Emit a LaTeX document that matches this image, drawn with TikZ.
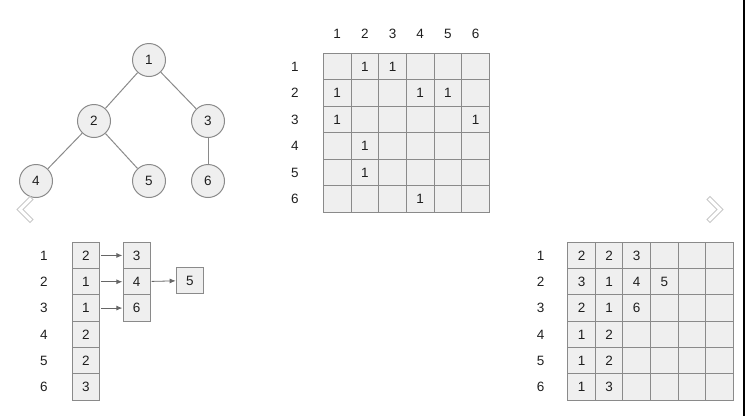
\documentclass[tikz,border=0pt]{standalone}
\usepackage{fontspec}
\setmainfont{Liberation Sans}
\usetikzlibrary{arrows.meta}
\definecolor{cellfill}{HTML}{EFEFEF}
\definecolor{linegray}{HTML}{8A8A8A}
\definecolor{txt}{HTML}{1E1E1E}
\definecolor{chev}{HTML}{C8C8C8}
\begin{document}
\begin{tikzpicture}[x=1pt,y=-1pt,
	every node/.style={font=\fontsize{13.5}{16}\selectfont,text=txt},
	vtx/.style={circle,draw=linegray,fill=cellfill,minimum size=33pt,inner sep=0pt,line width=1pt},
	cell/.style={draw=linegray,fill=cellfill,inner sep=0pt,outer sep=0pt,line width=1pt},
	edge/.style={draw=linegray,line width=1pt},
	link/.style={draw=black!60,line width=0.8pt,-{Latex[length=6pt,width=5pt]}}]
	\useasboundingbox (0,0) rectangle (745,416);
	% tree
	\node[vtx] (v1) at (149,60) {1};
	\node[vtx] (v2) at (94,121) {2};
	\node[vtx] (v3) at (208,121) {3};
	\node[vtx] (v4) at (36,181) {4};
	\node[vtx] (v5) at (149,181) {5};
	\node[vtx] (v6) at (208,181) {6};
	\draw[edge] (v1) -- (v2);
	\draw[edge] (v1) -- (v3);
	\draw[edge] (v2) -- (v4);
	\draw[edge] (v2) -- (v5);
	\draw[edge] (v3) -- (v6);
	% adjacency matrix
	\foreach \r in {1,...,6}{
		\node (ar\r) at (295,{53.3+26.5*(\r-0.5)}) {\r};
		\node (ac\r) at ({323.3+27.7*(\r-0.5)},34) {\r};
		\foreach \c in {1,...,6}
			\node[cell,minimum width=27.7pt,minimum height=26.5pt] (a-\r-\c) at ({323.3+27.7*(\c-0.5)},{53.3+26.5*(\r-0.5)}) {};
	}
	\foreach \r/\c in {1/2,1/3,2/1,2/4,2/5,3/1,3/6,4/2,5/2,6/4}
		\node at (a-\r-\c) {1};
	% adjacency list
	\foreach \r/\v in {1/2,2/1,3/1,4/2,5/2,6/3}{
		\node (lr\r) at (44,{242.3+26.3*(\r-0.5)}) {\r};
		\node[cell,minimum width=27pt,minimum height=26.3pt] (h\r) at (85.8,{242.3+26.3*(\r-0.5)}) {\v};
	}
	\foreach \r/\v in {1/3,2/4,3/6}{
		\node[cell,minimum width=26.7pt,minimum height=26.3pt] (n\r) at (136.7,{242.3+26.3*(\r-0.5)}) {\v};
		\draw[link,shorten <=1.5pt,shorten >=1pt] (h\r) -- (n\r);
	}
	\node[cell,minimum width=26.7pt,minimum height=25.6pt] (n2b) at (190,280.5) {5};
	\draw[link,shorten <=1.5pt,shorten >=1pt] (n2) -- (n2b);
	% right table
	\foreach \r in {1,...,6}{
		\node (tr\r) at (540.7,{242.3+26.3*(\r-0.5)}) {\r};
		\foreach \c in {1,...,6}
			\node[cell,minimum width=27.6pt,minimum height=26.3pt] (t-\r-\c) at ({567.7+27.6*(\c-0.5)},{242.3+26.3*(\r-0.5)}) {};
	}
	\foreach \r/\c/\v in {1/1/2,1/2/2,1/3/3,2/1/3,2/2/1,2/3/4,2/4/5,3/1/2,3/2/1,3/3/6,4/1/1,4/2/2,5/1/1,5/2/2,6/1/1,6/2/3}
		\node at (t-\r-\c) {\v};
	% chevrons
	\draw[chev,line width=1pt,fill=white] (30,196.5) -- (17,209.5) -- (30,222.5) -- (33,219.5) -- (23,209.5) -- (33,199.5) -- cycle;
	\draw[chev,line width=1pt,fill=white] (710,196.5) -- (723,209.5) -- (710,222.5) -- (707,219.5) -- (717,209.5) -- (707,199.5) -- cycle;
	\draw[black,line width=1.4pt] (744,0) -- (744,416);
\end{tikzpicture}
\end{document}
